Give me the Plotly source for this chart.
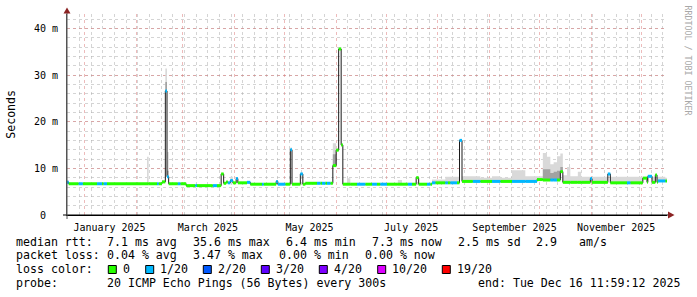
import plotly.graph_objects as go

# ---------------- data ----------------
x_start = "2024-12-21 11:59:12"
x_end = "2025-12-16 11:59:12"

seg_start = [
    "2024-12-21 12:00", "2024-12-22 12:00", "2024-12-28 12:00", "2024-12-31 00:00",
    "2025-01-08 12:00", "2025-01-11 12:00", "2025-01-12 12:00", "2025-01-14 12:00",
    "2025-02-07 12:00", "2025-02-08 12:00", "2025-02-13 12:00", "2025-02-14 12:00",
    "2025-02-16 12:00", "2025-02-18 12:00", "2025-02-19 12:00", "2025-02-20 12:00",
    "2025-02-26 00:00", "2025-02-27 12:00", "2025-03-03 00:00", "2025-03-08 12:00",
    "2025-03-09 12:00", "2025-03-19 00:00", "2025-03-21 12:00", "2025-03-24 00:00",
    "2025-03-25 12:00", "2025-03-27 00:00", "2025-03-28 00:00", "2025-03-29 12:00",
    "2025-03-31 00:00", "2025-04-02 00:00", "2025-04-03 00:00", "2025-04-08 12:00",
    "2025-04-10 12:00", "2025-04-17 12:00", "2025-04-18 12:00", "2025-04-26 00:00",
    "2025-04-27 00:00", "2025-05-01 12:00", "2025-05-04 12:00", "2025-05-05 12:00",
    "2025-05-10 12:00", "2025-05-12 00:00", "2025-05-13 12:00", "2025-05-20 12:00",
    "2025-05-22 12:00", "2025-05-23 12:00", "2025-05-25 12:00", "2025-05-26 12:00",
    "2025-05-28 12:00", "2025-05-30 00:00", "2025-06-01 00:00", "2025-06-02 12:00",
    "2025-06-04 00:00", "2025-06-05 00:00", "2025-06-07 12:00", "2025-06-09 12:00",
    "2025-06-13 12:00", "2025-06-18 12:00", "2025-06-22 12:00", "2025-06-25 12:00",
    "2025-06-27 12:00", "2025-07-01 12:00", "2025-07-08 00:00", "2025-07-10 12:00",
    "2025-07-14 00:00", "2025-07-16 12:00", "2025-07-19 00:00", "2025-07-20 12:00",
    "2025-07-25 12:00", "2025-07-27 12:00", "2025-07-28 12:00", "2025-07-30 12:00",
    "2025-08-05 12:00", "2025-08-07 00:00", "2025-08-08 12:00", "2025-08-12 12:00",
    "2025-08-14 00:00", "2025-08-15 12:00", "2025-08-22 00:00", "2025-08-26 12:00",
    "2025-09-02 12:00", "2025-09-07 12:00", "2025-09-14 12:00", "2025-09-22 12:00",
    "2025-09-29 12:00", "2025-10-03 00:00", "2025-10-05 12:00", "2025-10-07 12:00",
    "2025-10-09 12:00", "2025-10-11 12:00", "2025-10-13 12:00", "2025-10-15 00:00",
    "2025-10-17 12:00", "2025-10-19 12:00", "2025-10-24 00:00", "2025-10-26 00:00",
    "2025-10-31 12:00", "2025-11-01 12:00", "2025-11-11 00:00", "2025-11-12 12:00",
    "2025-11-22 12:00", "2025-11-24 12:00", "2025-12-02 00:00", "2025-12-04 12:00",
    "2025-12-05 00:00", "2025-12-07 12:00", "2025-12-09 12:00", "2025-12-10 12:00",
    "2025-12-11 00:00", "2025-12-15 12:00",
]
seg_last_end = "2025-12-16 12:00"

median_ms = [
    7.0, 6.7, 6.7, 6.7, 6.7, 6.7, 6.7, 6.7,
    6.7, 6.7, 6.7, 6.7, 7.1, 26.6, 8.2, 6.7,
    6.7, 6.7, 6.3, 6.3, 6.3, 6.3, 6.3, 8.8,
    6.8, 7.1, 6.9, 7.4, 6.9, 7.8, 6.9, 7.0,
    6.6, 6.6, 6.6, 7.2, 6.6, 6.6, 14.0, 6.6,
    8.8, 6.6, 6.8, 6.8, 6.8, 6.8, 6.8, 6.8,
    6.8, 10.6, 13.9, 35.6, 15.0, 6.6, 6.6, 6.6,
    6.6, 6.6, 6.6, 6.6, 6.6, 6.6, 6.6, 6.6,
    6.6, 6.6, 8.0, 6.6, 6.6, 6.6, 6.9, 6.9,
    6.9, 6.9, 6.9, 6.9, 16.0, 7.2, 7.2, 7.2,
    7.2, 7.2, 7.2, 7.2, 7.6, 7.5, 7.5, 7.5,
    7.5, 7.5, 9.3, 7.0, 7.0, 7.0, 7.0, 7.0,
    7.8, 7.0, 8.8, 6.9, 6.9, 6.9, 7.9, 7.0,
    8.3, 7.0, 8.6, 7.0, 7.3, 7.3,
]

# loss level index: 0 -> 0/20, 1 -> 1/20
loss_level = [
    1, 0, 1, 0, 1, 0, 1, 0,
    0, 0, 1, 0, 0, 1, 1, 0,
    1, 0, 0, 1, 0, 1, 0, 0,
    0, 0, 1, 1, 0, 1, 0, 1,
    0, 1, 0, 1, 1, 0, 1, 0,
    1, 0, 0, 1, 0, 1, 0, 1,
    0, 0, 0, 0, 0, 0, 0, 0,
    1, 0, 1, 0, 1, 0, 0, 0,
    1, 0, 0, 0, 1, 0, 1, 0,
    1, 0, 1, 0, 1, 0, 1, 0,
    1, 0, 1, 1, 0, 0, 0, 1,
    1, 0, 0, 0, 0, 0, 0, 0,
    1, 0, 1, 0, 1, 0, 0, 0,
    1, 0, 0, 0, 1, 0,
]

# upper edge of the light smoke (None = no visible smoke)
smoke_top_ms = [
    7.4, None, None, None, None, None, None, None,
    12.5, None, None, None, 7.4, 31.4, 13.5, None,
    None, None, None, None, None, None, None, None,
    None, None, None, 8.2, None, None, None, None,
    None, None, None, None, None, None, 14.5, None,
    None, None, None, None, None, None, None, None,
    None, 15.4, 14.3, 36.0, 15.4, None, 7.9, None,
    None, None, None, None, None, None, 7.5, None,
    None, None, None, None, None, None, 7.6, 7.6,
    8.2, 8.2, 8.2, 8.2, 16.3, 8.3, 8.3, 8.0,
    8.3, 8.0, 9.6, 8.3, 8.3, 13.3, 12.5, 10.9,
    11.3, 12.6, 13.2, 8.5, 10.3, 8.3, 9.3, 8.2,
    8.2, 8.2, 9.0, 8.2, 8.2, 8.2, 8.2, 8.2,
    8.6, 8.2, 8.8, 8.2, 8.2, 8.0,
]

# upper edge of the dense (darker) smoke (None = none)
smoke_inner_ms = [
    7.2, None, None, None, None, None, None, None,
    None, None, None, None, None, 28.5, 9.5, None,
    None, None, None, None, None, None, None, None,
    None, None, None, None, None, None, None, None,
    None, None, None, None, None, None, None, None,
    None, None, None, None, None, None, None, None,
    None, 13.0, None, None, None, None, None, None,
    None, None, None, None, None, None, None, None,
    None, None, None, None, None, None, None, None,
    None, None, None, None, None, None, None, None,
    None, None, None, None, None, 9.8, 9.8, 9.0,
    9.3, 9.5, 10.3, None, None, None, None, None,
    None, None, None, None, None, None, None, None,
    None, None, None, None, None, None,
]

loss_names = ["0", "1/20", "2/20", "3/20", "4/20", "10/20", "19/20"]
loss_colors = ["#26ff00", "#00b8ff", "#0059ff", "#5e00ff", "#7e00ff", "#dd00ff", "#ff0000"]

y_tick_vals = [0, 10, 20, 30, 40]
y_tick_text = ["0\u00a0\u00a0", "10 m", "20 m", "30 m", "40 m"]
x_label_vals = ["2025-01-16", "2025-03-16", "2025-05-16", "2025-07-16", "2025-09-16", "2025-11-16"]
x_label_text = ["January 2025", "March 2025", "May 2025", "July 2025", "September 2025", "November 2025"]

rtt_items = ["7.1 ms avg", "35.6 ms max", "6.4 ms min", "7.3 ms now", "2.5 ms sd", "2.9", "am/s"]
loss_items = ["0.04 % avg", "3.47 % max", "0.00 % min", "0.00 % now"]
probe_text = "20 ICMP Echo Pings (56 Bytes) every 300s"
end_text = "end: Tue Dec 16 11:59:12 2025"

# ---------------- build ----------------
W, H = 697, 297
L, R, T, B = 67, 30, 14, 82
PW, PH = W - L - R, H - T - B
MONO = "DejaVu Sans Mono"


def PX(px):
    return (px - L) / PW


def PY(py):
    return (T + PH - py) / PH


xs = seg_start + [seg_last_end]
med = median_ms + [median_ms[-1]]
top = [t if t is not None else m for t, m in zip(smoke_top_ms, median_ms)]
top = top + [top[-1]]
inner = [t if t is not None else m for t, m in zip(smoke_inner_ms, median_ms)]
inner = inner + [inner[-1]]

fig = go.Figure()

# light smoke
fig.add_trace(go.Scatter(x=xs, y=med, mode="lines", line=dict(width=0, shape="hv"),
                         hoverinfo="skip", showlegend=False))
fig.add_trace(go.Scatter(x=xs, y=top, mode="lines", line=dict(width=0, shape="hv"),
                         fill="tonexty", fillcolor="#d9d9d9", hoverinfo="skip", showlegend=False))
# dense smoke
fig.add_trace(go.Scatter(x=xs, y=med, mode="lines", line=dict(width=0, shape="hv"),
                         hoverinfo="skip", showlegend=False))
fig.add_trace(go.Scatter(x=xs, y=inner, mode="lines", line=dict(width=0, shape="hv"),
                         fill="tonexty", fillcolor="#a2a2a2", hoverinfo="skip", showlegend=False))
# black median outline
fig.add_trace(go.Scatter(x=xs, y=med, mode="lines", line=dict(width=1, shape="hv", color="#1a1a1a"),
                         hoverinfo="skip", showlegend=False))
# loss coloured median
for lvl, col in enumerate(loss_colors):
    sx, sy = [], []
    for i, lv in enumerate(loss_level):
        if lv == lvl:
            sx += [xs[i], xs[i + 1], None]
            sy += [median_ms[i], median_ms[i], None]
    if sx:
        fig.add_trace(go.Scatter(x=sx, y=sy, mode="lines", line=dict(width=3, color=col),
                                 hoverinfo="skip", showlegend=False))

# dummy trace to carry the label axis
fig.add_trace(go.Scatter(x=[x_start], y=[0], xaxis="x2", mode="markers",
                         marker=dict(opacity=0), hoverinfo="skip", showlegend=False))

red_grid = "rgba(220,120,120,0.5)"
gray_grid = "rgba(170,170,170,0.5)"

fig.update_layout(
    width=W, height=H,
    margin=dict(l=L, r=R, t=T, b=B),
    paper_bgcolor="white", plot_bgcolor="white",
    showlegend=False,
    xaxis=dict(
        type="date", range=[x_start, x_end], domain=[0, 1],
        tick0="2025-01-01", dtick="M1", showticklabels=False, ticks="",
        showgrid=True, gridcolor=red_grid, griddash="dot", gridwidth=1,
        minor=dict(tick0="2024-12-22", dtick=7 * 86400000, showgrid=True,
                   gridcolor=gray_grid, griddash="dot", gridwidth=1, ticks=""),
        showline=True, linecolor="#000000", linewidth=1, zeroline=False,
    ),
    xaxis2=dict(
        type="date", overlaying="x", matches="x", side="bottom",
        tickmode="array", tickvals=x_label_vals, ticktext=x_label_text,
        showgrid=False, ticks="outside", ticklen=3, tickcolor="rgba(0,0,0,0)",
        tickfont=dict(family=MONO, size=10, color="#000"), showline=False,
    ),
    yaxis=dict(
        range=[0, 43.1], tickmode="array", tickvals=y_tick_vals, ticktext=y_tick_text,
        showgrid=True, gridcolor=red_grid, griddash="dot", gridwidth=1,
        minor=dict(tick0=0, dtick=2, showgrid=True, gridcolor=gray_grid, griddash="dot", ticks=""),
        ticks="outside", ticklen=6, tickcolor="rgba(0,0,0,0)",
        tickfont=dict(family=MONO, size=10, color="#000"),
        showline=True, linecolor="#555555", linewidth=1, zeroline=False,
    ),
)

ann = []
shapes = []


def txt(s, xpx, ypx, size=11.6, color="#000", anchor="left", angle=0):
    ann.append(dict(text=s, x=PX(xpx), y=PY(ypx), xref="paper", yref="paper",
                    xanchor=anchor, yanchor="middle", showarrow=False, textangle=angle,
                    borderpad=0, borderwidth=0,
                    font=dict(family=MONO, size=size, color=color)))


# axis title and watermark
txt("Seconds", 10.8, 114, anchor="center", angle=-90)
txt("RRDTOOL / TOBI OETIKER", 687.5, 60, size=8.3, color="#a8a8a8", anchor="center", angle=90)

# legend rows
row1_x = [107.3, 193.3, 286, 372.3, 458.3, 536.7, 579]
txt("median rtt:", 15.5, 241.7)
for s, xp in zip(rtt_items, row1_x):
    txt(s, xp - 0.5, 241.7)

row2_x = [107.3, 193.3, 279.3, 365]
txt("packet loss:", 15.5, 255)
for s, xp in zip(loss_items, row2_x):
    txt(s, xp - 0.5, 255)

txt("loss color:", 15.5, 269.3)
box_x = [108.3, 145.7, 203.3, 261.3, 319.3, 377.7, 442.3]
for name, col, bx in zip(loss_names, loss_colors, box_x):
    shapes.append(dict(type="rect", xref="paper", yref="paper",
                       x0=PX(bx), x1=PX(bx + 8), y0=PY(273.5), y1=PY(265.5),
                       fillcolor=col, line=dict(color="#000", width=1)))
    txt(name, bx + 14.5, 269.3)

txt("probe:", 15.5, 282.7)
txt(probe_text, 106.8, 282.7)
txt(end_text, 477.8, 282.7)

# axis arrows / extensions
arrow_col = "#8b2323"
shapes.append(dict(type="line", xref="paper", yref="paper", x0=PX(63), x1=PX(669),
                   y0=PY(215), y1=PY(215), line=dict(color="#000", width=1)))
shapes.append(dict(type="line", xref="paper", yref="paper", x0=PX(67), x1=PX(67),
                   y0=PY(219), y1=PY(12), line=dict(color="#555555", width=1)))
shapes.append(dict(type="path", xref="paper", yref="paper",
                   path=f"M {PX(668)},{PY(211.5)} L {PX(674.5)},{PY(215)} L {PX(668)},{PY(218.5)} Z",
                   fillcolor=arrow_col, line=dict(color=arrow_col, width=0)))
shapes.append(dict(type="path", xref="paper", yref="paper",
                   path=f"M {PX(63.5)},{PY(13.5)} L {PX(67)},{PY(7.5)} L {PX(70.5)},{PY(13.5)} Z",
                   fillcolor=arrow_col, line=dict(color=arrow_col, width=0)))

fig.update_layout(annotations=ann, shapes=shapes)

fig.write_html("out.html", config={"displayModeBar": False})
